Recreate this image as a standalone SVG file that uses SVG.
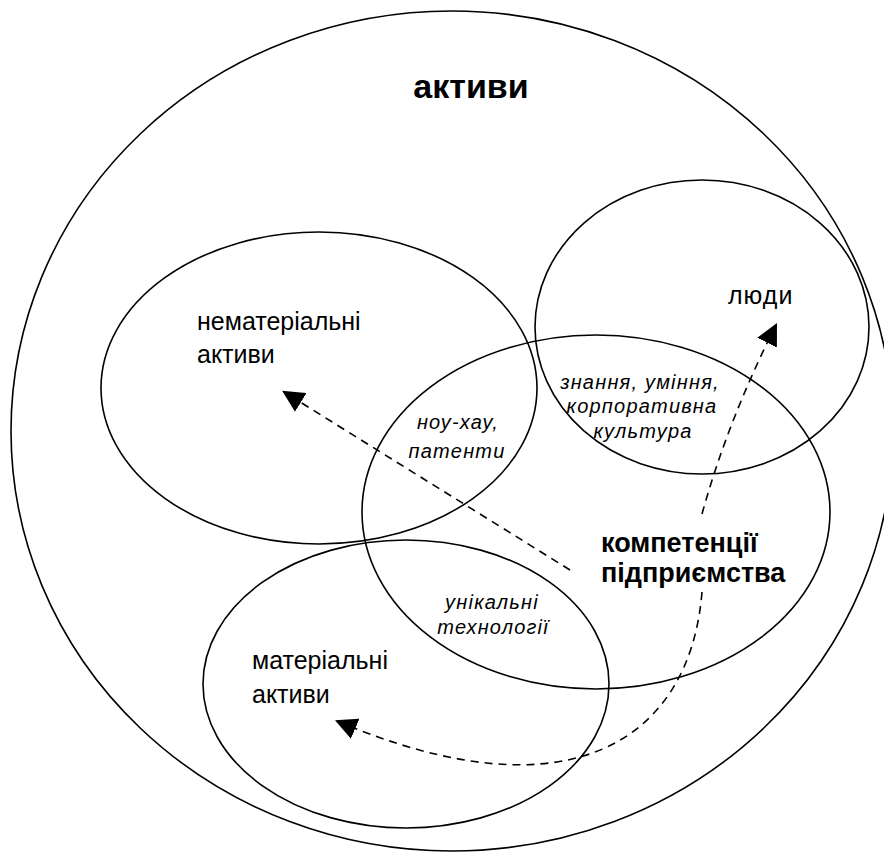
<svg xmlns="http://www.w3.org/2000/svg" width="884" height="853" viewBox="0 0 884 853">
<style>
.sh{fill:none;stroke:#000;stroke-width:1.6}
.cn{fill:none;stroke:#000;stroke-width:1.6;stroke-dasharray:8 6}
.t{font-family:"Liberation Sans",Arial,sans-serif;fill:#000}
.r{font-size:25px}
.b{font-size:27px;font-weight:bold}
.i{font-size:20px;font-style:italic;letter-spacing:1.2px}
.h{font-size:34px;font-weight:bold}
</style>
<defs>
<marker id="ah" viewBox="0 0 10 10" refX="9" refY="5" markerWidth="22" markerHeight="22" markerUnits="userSpaceOnUse" orient="auto">
<path d="M0,0 L10,5 L0,10 z" fill="#000"/>
</marker>
</defs>
<rect width="884" height="853" fill="#fff"/>
<g id="assets">
<ellipse class="sh" cx="452" cy="431" rx="441" ry="420"/>
<text class="t h" x="471" y="98" text-anchor="middle">активи</text>
</g>
<g id="intangible">
<ellipse class="sh" cx="319" cy="388" rx="218" ry="156"/>
<text class="t r" x="197" y="330">нематеріальні</text>
<text class="t r" x="197" y="363">активи</text>
</g>
<g id="people">
<ellipse class="sh" cx="702" cy="327" rx="167" ry="147"/>
<text class="t r" x="728" y="304" letter-spacing="1">люди</text>
</g>
<g id="competencies">
<ellipse class="sh" cx="596" cy="512" rx="234" ry="177"/>
<text class="t b" x="601" y="552">компетенції</text>
<text class="t b" x="601" y="582">підприємства</text>
</g>
<g id="tangible">
<ellipse class="sh" cx="406" cy="684" rx="203" ry="144"/>
<text class="t r" x="252" y="669">матеріальні</text>
<text class="t r" x="252" y="703">активи</text>
</g>
<g id="overlaps">
<text class="t i" x="458" y="429" text-anchor="middle">ноу-хау,</text>
<text class="t i" x="457" y="458" text-anchor="middle">патенти</text>
<text class="t i" x="640" y="389" text-anchor="middle">знання, уміння,</text>
<text class="t i" x="642" y="413" text-anchor="middle">корпоративна</text>
<text class="t i" x="643" y="438" text-anchor="middle">культура</text>
<text class="t i" x="492" y="609" text-anchor="middle">унікальні</text>
<text class="t i" x="493" y="634" text-anchor="middle">технології</text>
</g>
<g id="connectors">
<path class="cn" d="M570,570 L284,392" marker-end="url(#ah)"/>
<path class="cn" d="M702,514 Q728,420 776,325" marker-end="url(#ah)"/>
<path class="cn" d="M702,592 C690,740 570,820 337,721" marker-end="url(#ah)"/>
</g>
</svg>
